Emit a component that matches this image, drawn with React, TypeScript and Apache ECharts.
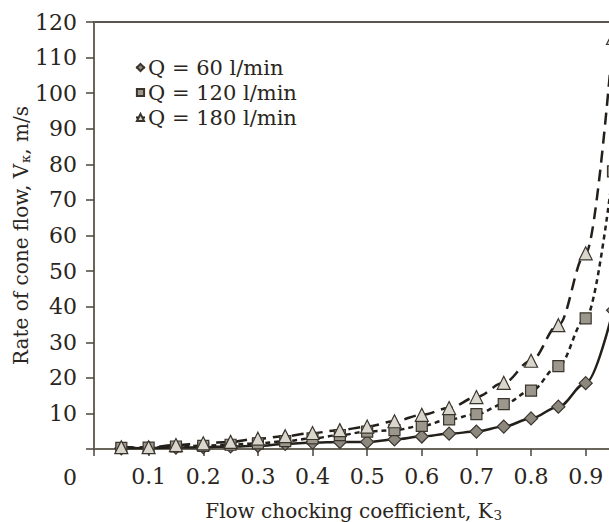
import React, { useEffect, useRef } from "react";
import * as echarts from "echarts";

const xValues = [0.05, 0.1, 0.15, 0.2, 0.25, 0.3, 0.35, 0.4, 0.45, 0.5, 0.55, 0.6, 0.65, 0.7, 0.75, 0.8, 0.85, 0.9, 0.95];
const q60 = [0.2, 0.3, 0.4, 0.5, 0.7, 0.9, 1.4, 1.8, 2.0, 2.0, 2.7, 3.5, 4.3, 4.9, 6.3, 8.6, 11.9, 18.5, 39];
const q120 = [0.3, 0.4, 0.7, 0.9, 1.2, 1.6, 2.2, 3.0, 3.9, 4.9, 5.3, 6.5, 8.3, 9.8, 12.6, 16.4, 23.3, 36.7, 78];
const q180 = [0.5, 0.5, 1.1, 1.6, 2.0, 2.9, 3.6, 4.5, 5.3, 6.3, 7.8, 9.6, 11.5, 14.6, 18.6, 24.8, 34.8, 55, 115.5];
const seriesNames = ["Q = 60 l/min", "Q = 120 l/min", "Q = 180 l/min"];

const FONT = "DejaVu Serif";
const TEXT = "#2a2520";
const LINE = "#231f1a";

export default function App() {
  const ref = useRef<HTMLDivElement>(null);
  useEffect(() => {
    if (!ref.current) return;
    const chart = echarts.init(ref.current, null, { renderer: "svg" });
    const mk = (ys: number[]) => xValues.map((x, i) => [x, ys[i]]);
    const common = {
      type: "line",
      smooth: 0.35,
      smoothMonotone: "x",
      clip: false,
    };
    chart.setOption({
      animation: false,
      backgroundColor: "#ffffff",
      textStyle: { fontFamily: FONT, color: TEXT },
      grid: {
        left: 94,
        top: 22,
        width: 519,
        height: 427,
        containLabel: false,
        outerBoundsMode: "none",
        show: true,
        borderColor: LINE,
        borderWidth: 1.5,
      },
      legend: {
        orient: "vertical",
        left: 130,
        top: 52,
        itemWidth: 9,
        itemHeight: 9,
        itemGap: 4,
        textStyle: { fontFamily: FONT, fontSize: 21, color: TEXT, padding: [0, 0, 0, -2] },
        data: seriesNames,
      },
      xAxis: {
        type: "value",
        min: 0,
        max: 0.95,
        interval: 0.1,
        splitLine: { show: false },
        axisLine: { lineStyle: { color: "#6b665c", width: 2 } },
        axisTick: { length: 7, lineStyle: { color: "#4a453d", width: 1.5 } },
        axisLabel: {
          margin: 16,
          fontFamily: FONT,
          fontSize: 22,
          color: TEXT,
          formatter: (v: number) => {
            const r = Math.round(v * 10) / 10;
            if (Math.abs(v - r) > 1e-6 || r === 0) return "";
            return r.toFixed(1);
          },
        },
        name: "Flow chocking coefficient, K{sub|З}",
        nameLocation: "middle",
        nameMoveOverlap: false,
        nameGap: 50,
        nameTextStyle: {
          fontFamily: FONT,
          fontSize: 20,
          color: TEXT,
          rich: { sub: { fontFamily: FONT, fontSize: 13, color: TEXT, padding: [10, 0, 0, 1] } },
        },
      },
      yAxis: {
        type: "value",
        min: 0,
        max: 120,
        interval: 10,
        splitLine: { show: false },
        axisLine: { lineStyle: { color: "#6b665c", width: 2 } },
        axisTick: { length: 8, lineStyle: { color: "#4a453d", width: 1.5 } },
        axisLabel: {
          margin: 17,
          fontFamily: FONT,
          fontSize: 22,
          color: TEXT,
          formatter: (v: number) => (v === 0 ? "" : String(v)),
        },
        name: "Rate of cone flow, V{sub|к}, m/s",
        nameLocation: "middle",
        nameMoveOverlap: false,
        nameGap: 62,
        nameTextStyle: {
          fontFamily: FONT,
          fontSize: 20,
          color: TEXT,
          rich: { sub: { fontFamily: FONT, fontSize: 13, color: TEXT, padding: [10, 0, 0, 1] } },
        },
      },
      graphic: [
        {
          type: "text",
          x: 70,
          y: 477,
          style: { text: "0", font: `22px '${FONT}'`, fill: TEXT, textAlign: "center", textVerticalAlign: "middle" },
        },
      ],
      series: [
        {
          ...common,
          name: seriesNames[0],
          data: mk(q60),
          symbol: "diamond",
          symbolSize: 13,
          lineStyle: { color: LINE, width: 2.5, type: "solid" },
          itemStyle: { color: "#8c887e", borderColor: "#3a342c", borderWidth: 1.2 },
        },
        {
          ...common,
          name: seriesNames[1],
          data: mk(q120),
          symbol: "rect",
          symbolSize: 11,
          lineStyle: { color: LINE, width: 2.5, type: [5, 4] },
          itemStyle: { color: "#9b978d", borderColor: "#3a342c", borderWidth: 1.2 },
        },
        {
          ...common,
          name: seriesNames[2],
          data: mk(q180),
          symbol: "triangle",
          symbolSize: 13,
          lineStyle: { color: LINE, width: 2.5, type: [12, 7] },
          itemStyle: { color: "#d8d6cd", borderColor: "#3a342c", borderWidth: 1.2 },
        },
      ],
    });
    return () => chart.dispose();
  }, []);
  return <div ref={ref} style={{ position: "fixed", left: 0, top: 0, width: 609, height: 522 }} />;
}
